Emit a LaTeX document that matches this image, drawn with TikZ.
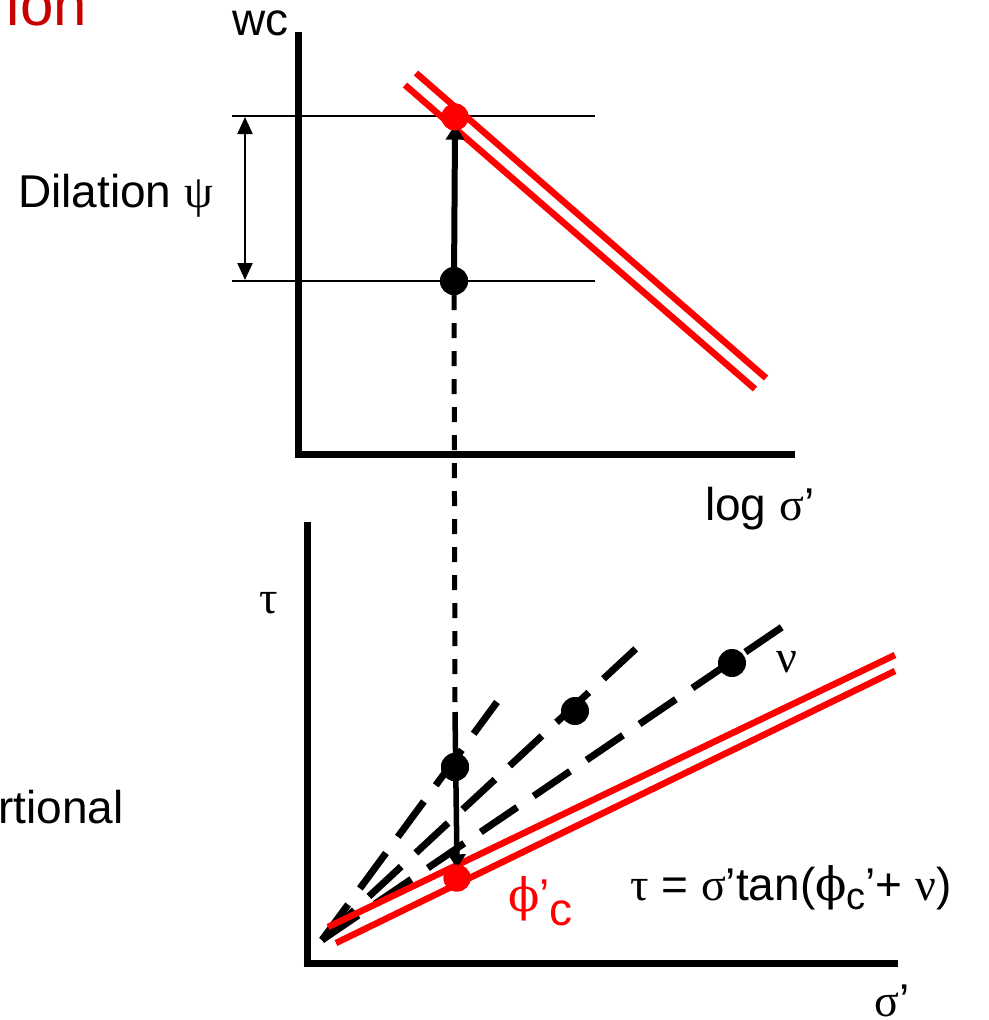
\documentclass[tikz,border=0pt]{standalone}
\usepackage{fontspec}
\setmainfont{Liberation Sans}
\newfontfamily\gr{Liberation Serif}
\newfontfamily\grb{DejaVu Serif}
\usetikzlibrary{arrows.meta}
\definecolor{redline}{RGB}{255,0,0}
\definecolor{darkred}{RGB}{200,0,0}
\begin{document}
\begin{tikzpicture}[x=1pt,y=-1pt,
  axis/.style={line width=7pt},
  guide/.style={line width=2pt},
  redl/.style={draw=redline,line width=6.5pt},
  blkdash/.style={line width=7pt,dash pattern=on 44pt off 20pt},
  vdash/.style={line width=5pt,dash pattern=on 15pt off 13pt},
  dot/.style={circle,fill=black,inner sep=0pt,minimum size=28pt},
  rdot/.style={circle,fill=redline,inner sep=0pt,minimum size=27pt},
  lbl/.style={inner sep=0pt,font=\fontsize{46}{54}\selectfont}]
\useasboundingbox (0,0) rectangle (988,1020);
\clip (0,0) rectangle (988,1020);

% ---------- top diagram ----------
\coordinate (tTop) at (298,32);
\coordinate (tO) at (298,454);
\coordinate (tEnd) at (795,454);
\draw[axis] (tTop) -- (298,457.5);
\draw[axis] (294.5,454) -- (tEnd);

\coordinate (g1a) at (232,116);
\coordinate (g1b) at (595,116);
\coordinate (g2a) at (232,281);
\coordinate (g2b) at (595,281);
\draw[guide] (g1a) -- (g1b);
\draw[guide] (g2a) -- (g2b);

\coordinate (dA) at (245,117);
\coordinate (dB) at (245,280);
\draw[line width=2.2pt,{Triangle[width=15pt,length=17pt]}-{Triangle[width=15pt,length=17pt]}] (dA) -- (dB);

\coordinate (r1a) at (416,73);
\coordinate (r1b) at (766,378);
\coordinate (r2a) at (405,85);
\coordinate (r2b) at (755,389);
\draw[redl] (r1a) -- (r1b);
\draw[redl] (r2a) -- (r2b);

\node[dot] (bTop) at (454,281) {};
\node[rdot] (rTop) at (455,117) {};

\draw[line width=6pt,-{Triangle[width=18pt,length=15pt]},shorten >=-6pt] (bTop.center) -- (rTop.south);
\node[rdot] at (rTop) {};
\node[dot] at (bTop) {};

% ---------- bottom diagram ----------
\coordinate (bAxTop) at (307,522);
\coordinate (bEnd) at (898,963);
\draw[axis] (bAxTop) -- (307,966.5);
\draw[axis] (303.5,963) -- (bEnd);

\coordinate (o) at (322,940);
\coordinate (l1) at (497,702);
\coordinate (l2) at (642,643);
\coordinate (l3) at (788,623);
\draw[blkdash] (o) -- (l1);
\draw[blkdash] (o) -- (l2);
\draw[blkdash] (o) -- (l3);

\coordinate (s1a) at (328,927);
\coordinate (s1b) at (895,655);
\coordinate (s2a) at (336,943);
\coordinate (s2b) at (895,671);
\draw[redl] (s1a) -- (s1b);
\draw[redl] (s2a) -- (s2b);

\node[dot] (p1) at (455,767) {};
\node[dot] (p2) at (575,711) {};
\node[dot] (p3) at (732,663) {};
\node[rdot] (pc) at (457,878) {};

\coordinate (vEnd) at (455,704);
\coordinate (vStart) at (455,712);
\draw[vdash] (bTop.south) -- (vEnd);
\draw[line width=5.5pt,-{Triangle[width=17pt,length=14pt]},shorten >=-4pt] (vStart) -- (pc.north);
\node[dot] at (p1) {};
\node[rdot] at (pc) {};

% ---------- labels ----------
\node[anchor=base east,inner sep=0pt,text=darkred,font=\fontsize{60}{70}\selectfont] (title) at (87,25) {ion};
\node[lbl,anchor=base west] (wc) at (232,35) {wc};
\node[lbl,anchor=base west] (dil) at (18,207) {Dilation {\gr ψ}};
\node[lbl,anchor=base west] (logs) at (705,520) {log {\gr σ}’};
\node[lbl,anchor=base west] (rt) at (-2,823) {rtional};
\node[lbl,anchor=base west] (tau) at (259,613) {\gr τ};
\node[lbl,anchor=base west] (nu) at (776,672) {\gr ν};
\node[lbl,anchor=base west,text=redline] (phic) at (508,911) {{\grb ϕ}’\raisebox{-14pt}{c}};
\node[lbl,anchor=base west] (formula) at (630,900) {{\gr τ} = {\gr σ}’tan({\grb ϕ}\raisebox{-9pt}{\fontsize{38}{40}\selectfont c}’+ {\gr ν})};
\node[lbl,anchor=base west] (sig) at (874,1016) {{\gr σ}’};
\end{tikzpicture}
\end{document}
